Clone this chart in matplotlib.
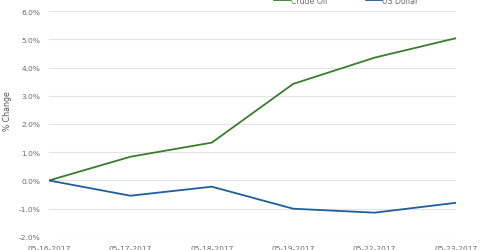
import numpy as np
import matplotlib.pyplot as plt

dates = ['05-16-2017', '05-17-2017', '05-18-2017', '05-19-2017', '05-22-2017', '05-23-2017']
crude_oil = [0.0, 0.84, 1.34, 3.42, 4.35, 5.04]
us_dollar = [0.0, -0.54, -0.22, -1.0, -1.14, -0.79]

fig = plt.figure(figsize=(4.8, 2.51), dpi=100)
ax = fig.add_axes([0.102, 0.052, 0.848, 0.9])

x = np.arange(len(dates))
ax.plot(x, crude_oil, color='#3a7d2c', lw=1.3, label='Crude Oil')
ax.plot(x, us_dollar, color='#1f5f9c', lw=1.3, label='US Dollar')

ax.set_xlim(0, len(dates) - 1)
ax.set_ylim(-2, 6)
ax.set_yticks(np.arange(-2, 7, 1))
ax.set_yticklabels([f'{v:.1f}%' for v in np.arange(-2, 7, 1)])
ax.set_xticks(x)
ax.set_xticklabels(dates)

ax.grid(axis='y', color='#e3e3e3', lw=0.8)
ax.set_axisbelow(True)
for s in ax.spines.values():
    s.set_visible(False)
ax.tick_params(length=0, labelsize=5.4, colors='#6b6b6b')
ax.tick_params(axis='x', pad=5.5)
ax.tick_params(axis='y', pad=6)
ax.set_ylabel('% Change', fontsize=5.6, color='#555555')
ax.yaxis.set_label_coords(-0.09, 0.56)

fig.legend(loc='center', bbox_to_anchor=(0.722, 0.996), ncol=2, frameon=False,
           fontsize=5.6, labelcolor='#6b6b6b', handlelength=2.05, handletextpad=0.1,
           columnspacing=4.9)

fig.savefig('out.png', dpi=100)
